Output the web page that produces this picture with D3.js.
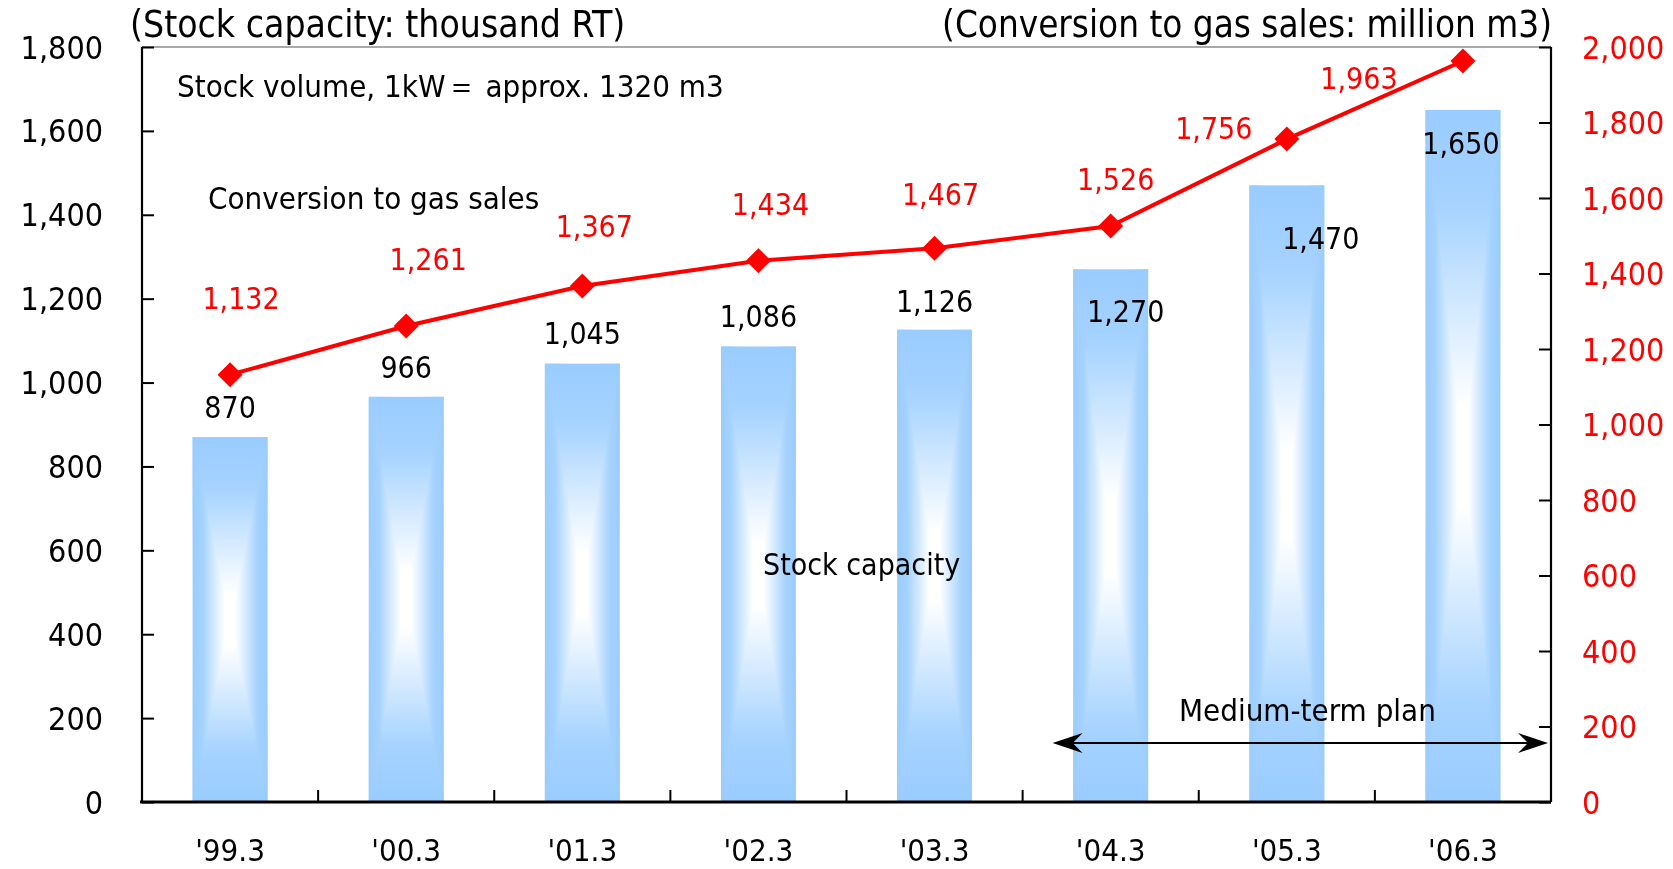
<!DOCTYPE html>
<html>
<head>
<meta charset="utf-8">
<script src="https://cdn.jsdelivr.net/npm/d3@7/dist/d3.min.js"></script>
<style>
  html, body { margin: 0; padding: 0; background: #fff; }
  svg { display: block; }
  text { font-family: "DejaVu Sans Condensed", "DejaVu Sans", sans-serif; }
</style>
</head>
<body>
<script>
// Fiscal year-end categories
const categories = ["'99.3", "'00.3", "'01.3", "'02.3", "'03.3", "'04.3", "'05.3", "'06.3"];
// Stock capacity (thousand RT) – bars, left axis
const stockCapacity = [870, 966, 1045, 1086, 1126, 1270, 1470, 1650];
// Conversion to gas sales (million m3) – line, right axis
const gasSales = [1132, 1261, 1367, 1434, 1467, 1526, 1756, 1963];
// Axis ticks
const leftTicks = [0, 200, 400, 600, 800, 1000, 1200, 1400, 1600, 1800];
const rightTicks = [0, 200, 400, 600, 800, 1000, 1200, 1400, 1600, 1800, 2000];

// Label nudges (pixels): bar labels relative to bar top centre, line labels relative to marker
const barLabelNudge = [[0, -30], [0, -30], [0, -30], [0, -30], [0, -29], [15, 42], [34, 53], [-2, 33]];
const lineLabelNudge = [[11, -76], [22, -67], [12, -60], [12, -56], [6, -54], [5, -47], [-73, -11], [-104, 17]];

const W = 1673, H = 869;
const plot = { left: 142, right: 1551, top: 47, bottom: 802 };
const fmt = d3.format(",");

const svg = d3.select("body").append("svg").attr("width", W).attr("height", H);

// Rectangular centre-out fill for the bars: two linear gradients combined with "darken"
const defs = svg.append("defs");
const stops = [[0, "#99CCFF"], [0.14, "#A6D3FF"], [0.43, "#FFFFFF"], [0.57, "#FFFFFF"], [0.86, "#A6D3FF"], [1, "#99CCFF"]];
function gradient(id, x2, y2) {
  const g = defs.append("linearGradient").attr("id", id)
    .attr("x1", 0).attr("y1", 0).attr("x2", x2).attr("y2", y2);
  stops.forEach(([o, c]) => g.append("stop").attr("offset", o).attr("stop-color", c));
}
gradient("barV", 0, 1);
gradient("barH", 1, 0);

const x = d3.scaleBand().domain(categories).range([plot.left, plot.right]).padding(0);
const barW = x.bandwidth() * 0.425;
const yL = d3.scaleLinear().domain([0, 1800]).range([plot.bottom, plot.top]);
const yR = d3.scaleLinear().domain([0, 2000]).range([plot.bottom, plot.top]);
const cx = c => x(c) + x.bandwidth() / 2;

// Top frame line
svg.append("line")
  .attr("x1", plot.left).attr("x2", plot.right)
  .attr("y1", plot.top).attr("y2", plot.top)
  .attr("stroke", "#8c8c8c").attr("stroke-width", 1.5);

// Bars
const bars = svg.append("g");
categories.forEach((c, i) => {
  const bx = cx(c) - barW / 2, by = yL(stockCapacity[i]), bh = yL(0) - yL(stockCapacity[i]);
  bars.append("rect").attr("x", bx).attr("y", by).attr("width", barW).attr("height", bh)
    .attr("fill", "url(#barV)");
  bars.append("rect").attr("x", bx).attr("y", by).attr("width", barW).attr("height", bh)
    .attr("fill", "url(#barH)").style("mix-blend-mode", "darken");
});

// Left axis
const axL = svg.append("g").attr("transform", `translate(${plot.left},0)`)
  .call(d3.axisRight(yL).tickValues(leftTicks).tickSize(12).tickFormat(""));
axL.select(".domain").attr("stroke", "#000").attr("stroke-width", 2.2).attr("d", `M0,${plot.top}V${plot.bottom}`);
axL.selectAll(".tick line").attr("stroke", "#000").attr("stroke-width", 2);
svg.append("g").selectAll("text").data(leftTicks).join("text")
  .attr("x", 103).attr("y", d => yL(d)).attr("dy", "0.36em")
  .attr("text-anchor", "end").attr("font-size", 32).attr("fill", "#000")
  .text(d => fmt(d));

// Right axis
const axR = svg.append("g").attr("transform", `translate(${plot.right},0)`)
  .call(d3.axisLeft(yR).tickValues(rightTicks).tickSize(12).tickFormat(""));
axR.select(".domain").attr("stroke", "#000").attr("stroke-width", 2.2).attr("d", `M0,${plot.top}V${plot.bottom}`);
axR.selectAll(".tick line").attr("stroke", "#000").attr("stroke-width", 2);
svg.append("g").selectAll("text").data(rightTicks).join("text")
  .attr("x", 1582).attr("y", d => yR(d)).attr("dy", "0.36em")
  .attr("text-anchor", "start").attr("font-size", 32).attr("fill", "#FF0000")
  .text(d => fmt(d));

// Bottom axis with ticks on category boundaries
const bottom = svg.append("g");
bottom.append("line").attr("x1", plot.left - 2).attr("x2", plot.right)
  .attr("y1", plot.bottom).attr("y2", plot.bottom)
  .attr("stroke", "#000").attr("stroke-width", 3);
bottom.selectAll("line.tk").data(categories.slice(1)).join("line").attr("class", "tk")
  .attr("x1", d => x(d)).attr("x2", d => x(d))
  .attr("y1", plot.bottom).attr("y2", plot.bottom - 12)
  .attr("stroke", "#000").attr("stroke-width", 2);
bottom.selectAll("text").data(categories).join("text")
  .attr("x", d => cx(d)).attr("y", 861)
  .attr("text-anchor", "middle").attr("font-size", 31).attr("fill", "#000")
  .text(d => d);

// Gas-sales line and diamond markers
const line = d3.line().x((d, i) => cx(categories[i])).y(d => yR(d));
svg.append("path").datum(gasSales).attr("d", line)
  .attr("fill", "none").attr("stroke", "#FF0000").attr("stroke-width", 4);
svg.append("g").selectAll("path").data(gasSales).join("path")
  .attr("transform", (d, i) => `translate(${cx(categories[i])},${yR(d)})`)
  .attr("d", "M0,-12.5L12.5,0L0,12.5L-12.5,0Z")
  .attr("fill", "#FF0000");

// Value labels
svg.append("g").selectAll("text").data(stockCapacity).join("text")
  .attr("x", (d, i) => cx(categories[i]) + barLabelNudge[i][0])
  .attr("y", (d, i) => yL(d) + barLabelNudge[i][1]).attr("dy", "0.36em")
  .attr("text-anchor", "middle").attr("font-size", 30).attr("fill", "#000")
  .text(d => fmt(d));
svg.append("g").selectAll("text").data(gasSales).join("text")
  .attr("x", (d, i) => cx(categories[i]) + lineLabelNudge[i][0])
  .attr("y", (d, i) => yR(d) + lineLabelNudge[i][1]).attr("dy", "0.36em")
  .attr("text-anchor", "middle").attr("font-size", 30).attr("fill", "#FF0000")
  .text(d => fmt(d));

// Axis titles
svg.append("text").attr("x", 130).attr("y", 37).attr("font-size", 37).attr("fill", "#000")
  .text("(Stock capacity: thousand RT)");
svg.append("text").attr("x", 1552).attr("y", 37).attr("text-anchor", "end").attr("font-size", 36.5).attr("fill", "#000")
  .text("(Conversion to gas sales: million m3)");

// Annotations
svg.append("text").attr("x", 177).attr("y", 97).attr("font-size", 31).attr("fill", "#000")
  .text("Stock volume, 1kW＝ approx. 1320 m3");
svg.append("text").attr("x", 208).attr("y", 209).attr("font-size", 31).attr("fill", "#000")
  .text("Conversion to gas sales");
svg.append("text").attr("x", 763).attr("y", 575).attr("font-size", 30).attr("fill", "#000")
  .text("Stock capacity");
svg.append("text").attr("x", 1179).attr("y", 721).attr("font-size", 31).attr("fill", "#000")
  .text("Medium-term plan");

// Medium-term plan arrow
const ax0 = x("'04.3") + 30, ax1 = plot.right - 3, ay = 743;
svg.append("line").attr("x1", ax0 + 10).attr("x2", ax1 - 10).attr("y1", ay).attr("y2", ay)
  .attr("stroke", "#000").attr("stroke-width", 2);
svg.append("path")
  .attr("d", `M${ax0},${ay}L${ax0 + 30},${ay - 10}L${ax0 + 20},${ay}L${ax0 + 30},${ay + 10}Z` +
             `M${ax1},${ay}L${ax1 - 30},${ay - 10}L${ax1 - 20},${ay}L${ax1 - 30},${ay + 10}Z`)
  .attr("fill", "#000");
</script>
</body>
</html>
